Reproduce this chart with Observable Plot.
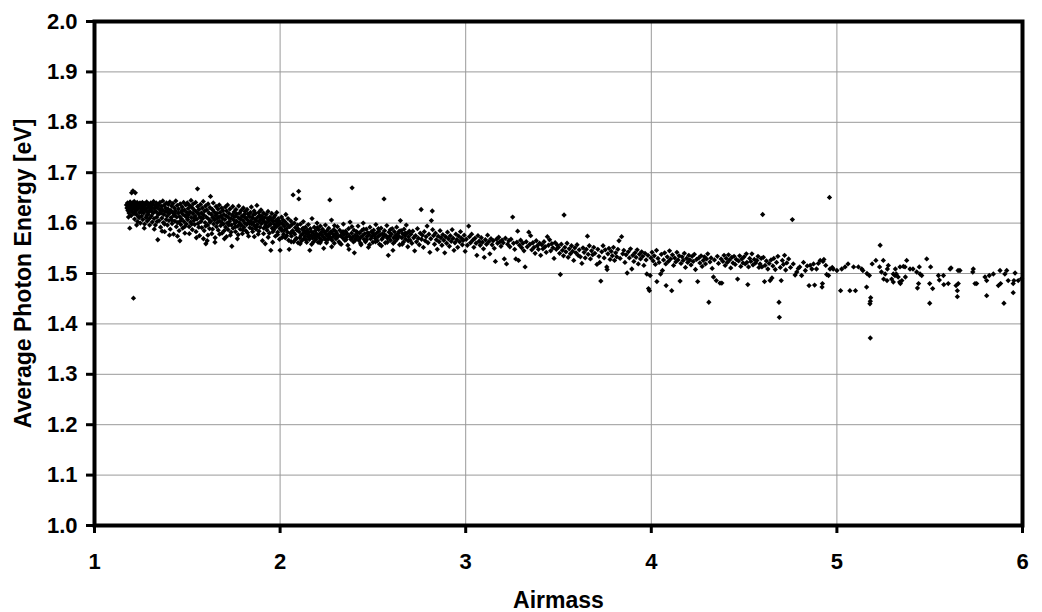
<!DOCTYPE html>
<html>
<head>
<meta charset="utf-8">
<script src="https://cdn.jsdelivr.net/npm/d3@7"></script>
<script src="https://cdn.jsdelivr.net/npm/@observablehq/plot@0.6"></script>
<style>
  html, body { margin: 0; padding: 0; background: #fff; }
  #chart svg { display: block; }
</style>
</head>
<body>
<div id="chart"></div>
<script>
// Axis tick values
const xTicks = [1, 2, 3, 4, 5, 6];
const yTicks = [1.0, 1.1, 1.2, 1.3, 1.4, 1.5, 1.6, 1.7, 1.8, 1.9, 2.0];
const xTitle = "Airmass";
const yTitle = "Average Photon Energy [eV]";

// [airmass, average photon energy], grouped by airmass range
const seg1 = [[1.172,1.636],[1.175,1.630],[1.178,1.640],[1.180,1.625],[1.182,1.634],[1.185,1.638],[1.186,1.620],[1.188,1.631],[1.190,1.590],[1.192,1.642],[1.194,1.627],[1.196,1.636],[1.198,1.615],[1.200,1.660],[1.202,1.633],[1.204,1.640],[1.205,1.622],[1.207,1.664],[1.209,1.637],[1.210,1.451],[1.212,1.629],[1.214,1.643],[1.216,1.608],[1.218,1.635],[1.220,1.660],[1.222,1.624],[1.224,1.639],[1.226,1.617],[1.228,1.632],[1.230,1.641],[1.232,1.603],[1.234,1.628],[1.236,1.637],[1.238,1.612],[1.240,1.634],[1.243,1.621],[1.245,1.640],[1.247,1.600],[1.249,1.630],[1.251,1.637],[1.254,1.614],[1.256,1.626],[1.258,1.641],[1.260,1.607],[1.263,1.633],[1.265,1.620],[1.267,1.639],[1.270,1.598],[1.272,1.628],[1.274,1.636],[1.277,1.611],[1.279,1.624],[1.281,1.642],[1.284,1.604],[1.286,1.631],[1.288,1.617],[1.291,1.638],[1.293,1.622],[1.296,1.609],[1.298,1.634]];
const seg2 = [[1.301,1.627],[1.303,1.640],[1.306,1.614],[1.308,1.632],[1.311,1.602],[1.313,1.637],[1.316,1.620],[1.318,1.643],[1.321,1.609],[1.323,1.629],[1.326,1.635],[1.328,1.596],[1.331,1.623],[1.333,1.640],[1.336,1.612],[1.338,1.631],[1.341,1.567],[1.343,1.618],[1.346,1.636],[1.348,1.605],[1.351,1.627],[1.353,1.641],[1.356,1.592],[1.358,1.620],[1.361,1.633],[1.363,1.610],[1.366,1.626],[1.368,1.644],[1.371,1.601],[1.373,1.617],[1.376,1.636],[1.378,1.583],[1.381,1.623],[1.383,1.630],[1.386,1.607],[1.388,1.640],[1.391,1.614],[1.393,1.596],[1.396,1.628],[1.398,1.637],[1.401,1.605],[1.403,1.619],[1.406,1.642],[1.408,1.588],[1.411,1.625],[1.413,1.611],[1.416,1.634],[1.418,1.599],[1.421,1.621],[1.423,1.639],[1.426,1.578],[1.428,1.615],[1.431,1.630],[1.433,1.604],[1.436,1.624],[1.438,1.644],[1.441,1.593],[1.443,1.612],[1.446,1.635],[1.448,1.601],[1.451,1.620],[1.453,1.628],[1.456,1.585],[1.458,1.613],[1.460,1.565],[1.462,1.638],[1.465,1.597],[1.467,1.622],[1.470,1.608],[1.472,1.632],[1.475,1.590],[1.477,1.617],[1.480,1.641],[1.482,1.603],[1.485,1.626],[1.487,1.580],[1.490,1.614],[1.492,1.636],[1.495,1.598],[1.497,1.621]];
const seg3 = [[1.500,1.640],[1.502,1.607],[1.505,1.629],[1.507,1.616],[1.510,1.593],[1.512,1.635],[1.515,1.622],[1.517,1.602],[1.520,1.645],[1.522,1.611],[1.525,1.631],[1.527,1.587],[1.530,1.619],[1.532,1.638],[1.535,1.605],[1.537,1.626],[1.540,1.597],[1.542,1.614],[1.545,1.641],[1.547,1.583],[1.550,1.622],[1.552,1.608],[1.555,1.668],[1.556,1.633],[1.558,1.599],[1.561,1.618],[1.563,1.627],[1.566,1.575],[1.568,1.612],[1.571,1.637],[1.573,1.603],[1.576,1.620],[1.578,1.591],[1.581,1.630],[1.583,1.609],[1.586,1.643],[1.588,1.616],[1.591,1.585],[1.593,1.624],[1.596,1.601],[1.598,1.634],[1.600,1.559],[1.602,1.612],[1.605,1.626],[1.607,1.565],[1.610,1.596],[1.612,1.638],[1.615,1.608],[1.617,1.620],[1.620,1.589],[1.622,1.631],[1.625,1.653],[1.627,1.604],[1.630,1.617],[1.632,1.579],[1.635,1.627],[1.637,1.611],[1.640,1.640],[1.642,1.598],[1.645,1.622],[1.647,1.606],[1.650,1.571],[1.652,1.615],[1.655,1.633],[1.657,1.593],[1.660,1.619],[1.662,1.601],[1.665,1.628],[1.667,1.586],[1.670,1.612],[1.672,1.636],[1.675,1.604],[1.677,1.621],[1.680,1.595],[1.682,1.614],[1.685,1.630],[1.687,1.580],[1.690,1.609],[1.692,1.625],[1.695,1.598],[1.697,1.617]];
const seg4 = [[1.700,1.569],[1.702,1.607],[1.705,1.632],[1.707,1.592],[1.710,1.614],[1.712,1.624],[1.715,1.600],[1.717,1.636],[1.720,1.587],[1.722,1.611],[1.725,1.619],[1.727,1.603],[1.730,1.628],[1.732,1.576],[1.735,1.609],[1.737,1.596],[1.740,1.554],[1.742,1.616],[1.745,1.633],[1.747,1.590],[1.750,1.606],[1.752,1.622],[1.755,1.599],[1.757,1.613],[1.760,1.583],[1.762,1.627],[1.765,1.604],[1.767,1.618],[1.770,1.569],[1.772,1.594],[1.775,1.611],[1.777,1.634],[1.780,1.601],[1.782,1.620],[1.785,1.588],[1.787,1.608],[1.790,1.625],[1.792,1.596],[1.795,1.614],[1.797,1.579],[1.800,1.605],[1.802,1.630],[1.805,1.592],[1.807,1.617],[1.810,1.600],[1.812,1.623],[1.815,1.585],[1.817,1.610],[1.820,1.597],[1.822,1.627],[1.825,1.606],[1.827,1.618],[1.830,1.574],[1.832,1.602],[1.835,1.613],[1.837,1.591],[1.840,1.621],[1.842,1.604],[1.845,1.632],[1.847,1.598],[1.850,1.610],[1.852,1.583],[1.855,1.616],[1.857,1.601],[1.860,1.624],[1.862,1.594],[1.865,1.608],[1.867,1.619],[1.870,1.588],[1.872,1.605],[1.875,1.635],[1.877,1.597],[1.880,1.612],[1.882,1.578],[1.885,1.621],[1.887,1.603],[1.890,1.615],[1.892,1.592],[1.895,1.607],[1.897,1.626]];
const seg5 = [[1.900,1.599],[1.902,1.614],[1.905,1.565],[1.907,1.606],[1.910,1.620],[1.912,1.590],[1.915,1.603],[1.917,1.611],[1.920,1.559],[1.922,1.596],[1.925,1.617],[1.927,1.601],[1.930,1.586],[1.932,1.609],[1.935,1.623],[1.937,1.594],[1.940,1.605],[1.942,1.580],[1.945,1.612],[1.947,1.598],[1.950,1.546],[1.952,1.607],[1.955,1.619],[1.957,1.590],[1.960,1.562],[1.962,1.603],[1.965,1.611],[1.967,1.587],[1.970,1.597],[1.972,1.615],[1.975,1.574],[1.977,1.605],[1.980,1.593],[1.982,1.621],[1.985,1.600],[1.987,1.582],[1.990,1.609],[1.992,1.596],[1.995,1.604],[1.997,1.568],[2.000,1.546],[2.002,1.601],[2.005,1.590],[2.008,1.612],[2.010,1.585],[2.013,1.598],[2.016,1.606],[2.019,1.578],[2.022,1.594],[2.025,1.603],[2.028,1.571],[2.031,1.617],[2.034,1.589],[2.037,1.598],[2.040,1.582],[2.043,1.609],[2.046,1.566],[2.049,1.548],[2.052,1.593],[2.055,1.580],[2.058,1.604],[2.061,1.574],[2.064,1.597],[2.067,1.585],[2.070,1.656],[2.073,1.563],[2.076,1.600],[2.079,1.578],[2.082,1.591],[2.085,1.608],[2.088,1.570],[2.091,1.586],[2.094,1.596],[2.097,1.561],[2.100,1.663],[2.101,1.648]];
const seg5b = [[1.183,1.612],[1.197,1.628],[1.213,1.619],[1.227,1.596],[1.241,1.611],[1.253,1.623],[1.268,1.590],[1.282,1.615],[1.297,1.596],[1.309,1.624],[1.322,1.588],[1.337,1.603],[1.349,1.619],[1.364,1.584],[1.377,1.598],[1.392,1.622],[1.404,1.576],[1.417,1.606],[1.432,1.618],[1.447,1.574],[1.459,1.603],[1.474,1.625],[1.486,1.593],[1.499,1.611],[1.511,1.579],[1.524,1.598],[1.538,1.610],[1.549,1.571],[1.562,1.592],[1.574,1.611],[1.587,1.569],[1.599,1.594],[1.611,1.576],[1.623,1.602],[1.636,1.588],[1.649,1.562],[1.661,1.609],[1.674,1.578],[1.686,1.601],[1.699,1.585],[1.711,1.573],[1.724,1.596],[1.736,1.582],[1.749,1.614],[1.761,1.593],[1.774,1.577],[1.786,1.597],[1.799,1.586],[1.811,1.611],[1.824,1.581],[1.836,1.599],[1.849,1.589],[1.861,1.573],[1.874,1.593],[1.886,1.584],[1.899,1.610],[1.911,1.579],[1.924,1.592],[1.936,1.572],[1.949,1.598],[1.961,1.583],[1.974,1.593],[1.986,1.577],[1.999,1.589],[2.012,1.572],[2.024,1.586],[2.036,1.575],[2.048,1.593],[2.060,1.563],[2.072,1.581],[2.084,1.568],[2.096,1.589]];
const seg6 = [[2.103,1.583],[2.106,1.571],[2.110,1.598],[2.113,1.576],[2.116,1.565],[2.119,1.588],[2.122,1.579],[2.125,1.603],[2.128,1.569],[2.131,1.584],[2.134,1.574],[2.137,1.592],[2.140,1.580],[2.143,1.562],[2.146,1.586],[2.149,1.573],[2.152,1.597],[2.155,1.577],[2.158,1.568],[2.160,1.546],[2.163,1.589],[2.166,1.575],[2.169,1.583],[2.172,1.609],[2.175,1.571],[2.178,1.580],[2.181,1.563],[2.184,1.592],[2.187,1.576],[2.190,1.585],[2.193,1.568],[2.196,1.579],[2.199,1.600],[2.202,1.574],[2.205,1.562],[2.208,1.587],[2.211,1.577],[2.214,1.570],[2.217,1.594],[2.220,1.581],[2.223,1.566],[2.226,1.576],[2.229,1.588],[2.232,1.573],[2.235,1.550],[2.238,1.582],[2.241,1.569],[2.244,1.596],[2.247,1.578],[2.250,1.561],[2.253,1.585],[2.256,1.574],[2.259,1.568],[2.262,1.590],[2.265,1.577],[2.268,1.646],[2.271,1.571],[2.274,1.583],[2.277,1.606],[2.280,1.566],[2.283,1.579],[2.286,1.573],[2.289,1.587],[2.292,1.560],[2.295,1.576],[2.298,1.584],[2.301,1.569],[2.305,1.580],[2.309,1.593],[2.313,1.574],[2.317,1.563],[2.321,1.586],[2.325,1.575],[2.329,1.558],[2.333,1.581],[2.337,1.571],[2.341,1.598],[2.345,1.577],[2.349,1.566],[2.353,1.584],[2.357,1.572],[2.361,1.579],[2.365,1.556],[2.369,1.589],[2.373,1.574],[2.377,1.602],[2.381,1.568],[2.385,1.580],[2.388,1.670],[2.391,1.572],[2.395,1.563],[2.398,1.586]];
const seg7 = [[2.400,1.541],[2.404,1.576],[2.408,1.569],[2.412,1.583],[2.416,1.574],[2.420,1.594],[2.424,1.566],[2.428,1.580],[2.432,1.571],[2.436,1.557],[2.440,1.585],[2.444,1.575],[2.448,1.600],[2.452,1.568],[2.456,1.579],[2.460,1.563],[2.464,1.588],[2.468,1.573],[2.472,1.581],[2.476,1.552],[2.480,1.577],[2.484,1.592],[2.488,1.569],[2.492,1.583],[2.496,1.574],[2.500,1.562],[2.504,1.586],[2.508,1.576],[2.512,1.570],[2.516,1.597],[2.520,1.580],[2.524,1.565],[2.528,1.573],[2.532,1.584],[2.536,1.558],[2.540,1.577],[2.544,1.590],[2.548,1.568],[2.552,1.579],[2.556,1.572],[2.560,1.648],[2.563,1.585],[2.567,1.561],[2.571,1.575],[2.575,1.595],[2.579,1.570],[2.583,1.536],[2.587,1.582],[2.591,1.574],[2.595,1.566],[2.600,1.578],[2.604,1.589],[2.608,1.546],[2.612,1.571],[2.616,1.583],[2.620,1.564],[2.624,1.576],[2.628,1.592],[2.632,1.569],[2.636,1.580],[2.640,1.574],[2.644,1.557],[2.648,1.605],[2.652,1.585],[2.656,1.571],[2.660,1.579],[2.664,1.562],[2.668,1.588],[2.672,1.575],[2.676,1.568],[2.680,1.596],[2.684,1.580],[2.688,1.553],[2.692,1.573],[2.696,1.584]];
const seg7b = [[2.108,1.559],[2.124,1.590],[2.139,1.567],[2.154,1.582],[2.170,1.558],[2.186,1.571],[2.201,1.591],[2.216,1.561],[2.231,1.584],[2.246,1.568],[2.262,1.578],[2.278,1.553],[2.293,1.595],[2.307,1.572],[2.323,1.560],[2.339,1.583],[2.355,1.567],[2.371,1.548],[2.387,1.593],[2.402,1.565],[2.418,1.581],[2.434,1.560],[2.450,1.588],[2.466,1.567],[2.482,1.557],[2.498,1.581],[2.514,1.563],[2.530,1.589],[2.546,1.555],[2.562,1.577],[2.578,1.562],[2.594,1.587],[2.610,1.560],[2.626,1.572],[2.642,1.584],[2.658,1.558],[2.674,1.580],[2.690,1.565]];
const seg8 = [[2.700,1.566],[2.705,1.578],[2.710,1.560],[2.715,1.584],[2.720,1.571],[2.725,1.545],[2.730,1.575],[2.735,1.563],[2.740,1.589],[2.745,1.570],[2.750,1.557],[2.755,1.580],[2.760,1.627],[2.762,1.568],[2.767,1.576],[2.772,1.552],[2.777,1.583],[2.782,1.565],[2.787,1.573],[2.792,1.594],[2.797,1.561],[2.802,1.578],[2.807,1.542],[2.812,1.569],[2.815,1.605],[2.820,1.624],[2.822,1.587],[2.827,1.575],[2.832,1.558],[2.837,1.580],[2.842,1.567],[2.847,1.548],[2.852,1.574],[2.857,1.563],[2.862,1.585],[2.867,1.571],[2.872,1.556],[2.877,1.577],[2.882,1.566],[2.887,1.541],[2.892,1.573],[2.897,1.560],[2.902,1.582],[2.907,1.569],[2.912,1.554],[2.917,1.575],[2.922,1.564],[2.927,1.587],[2.932,1.570],[2.937,1.546],[2.942,1.561],[2.947,1.578],[2.952,1.567],[2.957,1.552],[2.962,1.574],[2.967,1.563],[2.972,1.583],[2.977,1.570],[2.982,1.557],[2.987,1.566],[2.992,1.576],[2.997,1.544]];
const seg9 = [[3.003,1.568],[3.009,1.556],[3.016,1.594],[3.020,1.573],[3.026,1.561],[3.032,1.578],[3.038,1.566],[3.044,1.552],[3.050,1.570],[3.056,1.560],[3.060,1.536],[3.066,1.575],[3.072,1.564],[3.078,1.556],[3.084,1.571],[3.090,1.562],[3.096,1.549],[3.100,1.532],[3.106,1.567],[3.112,1.558],[3.118,1.576],[3.124,1.563],[3.130,1.539],[3.136,1.569],[3.142,1.557],[3.148,1.565],[3.154,1.550],[3.160,1.524],[3.166,1.568],[3.172,1.560],[3.178,1.572],[3.184,1.563],[3.190,1.554],[3.196,1.566],[3.202,1.561],[3.208,1.529],[3.214,1.570],[3.220,1.519],[3.226,1.558],[3.232,1.565],[3.238,1.553],[3.244,1.568],[3.253,1.612],[3.258,1.560],[3.264,1.548],[3.270,1.529],[3.276,1.562],[3.280,1.584],[3.285,1.526],[3.290,1.556],[3.296,1.566],[3.302,1.551],[3.308,1.560],[3.314,1.545],[3.320,1.513],[3.326,1.563],[3.332,1.553],[3.340,1.582],[3.346,1.558],[3.350,1.575],[3.356,1.547],[3.362,1.561],[3.368,1.552],[3.374,1.540],[3.380,1.565],[3.386,1.555],[3.392,1.548],[3.398,1.560],[3.404,1.536],[3.410,1.557],[3.416,1.549],[3.422,1.563],[3.428,1.553],[3.434,1.542],[3.440,1.573],[3.446,1.556],[3.452,1.567],[3.458,1.545],[3.464,1.559],[3.470,1.551],[3.476,1.530],[3.482,1.561],[3.488,1.548],[3.494,1.556]];
const seg10 = [[3.500,1.552],[3.506,1.540],[3.510,1.498],[3.515,1.558],[3.521,1.546],[3.527,1.535],[3.530,1.616],[3.534,1.552],[3.540,1.543],[3.546,1.560],[3.552,1.532],[3.558,1.549],[3.564,1.539],[3.570,1.555],[3.576,1.544],[3.582,1.526],[3.588,1.551],[3.594,1.541],[3.600,1.557],[3.606,1.536],[3.612,1.547],[3.618,1.533],[3.626,1.520],[3.632,1.551],[3.638,1.542],[3.644,1.531],[3.650,1.548],[3.656,1.574],[3.660,1.538],[3.666,1.555],[3.672,1.529],[3.678,1.545],[3.684,1.537],[3.690,1.552],[3.696,1.540],[3.707,1.518],[3.712,1.548],[3.718,1.534],[3.722,1.522],[3.728,1.485],[3.733,1.543],[3.740,1.555],[3.746,1.531],[3.752,1.547],[3.760,1.513],[3.762,1.508],[3.766,1.539],[3.772,1.550],[3.778,1.528],[3.784,1.544],[3.790,1.535],[3.796,1.552],[3.802,1.526],[3.808,1.541],[3.814,1.533],[3.820,1.548],[3.826,1.565],[3.832,1.530],[3.840,1.573],[3.846,1.539],[3.852,1.546],[3.858,1.522],[3.864,1.537],[3.870,1.501],[3.876,1.543],[3.882,1.531],[3.888,1.549],[3.895,1.509],[3.900,1.536],[3.906,1.524],[3.912,1.541],[3.918,1.532],[3.924,1.547],[3.930,1.519],[3.936,1.538],[3.942,1.529],[3.948,1.543],[3.954,1.534],[3.960,1.516],[3.966,1.540],[3.972,1.527],[3.976,1.499],[3.982,1.536],[3.985,1.470],[3.990,1.466],[3.994,1.496],[3.998,1.531]];
const seg11 = [[4.004,1.542],[4.010,1.525],[4.016,1.535],[4.022,1.518],[4.028,1.546],[4.030,1.484],[4.036,1.530],[4.042,1.522],[4.050,1.499],[4.054,1.538],[4.060,1.506],[4.066,1.527],[4.072,1.541],[4.078,1.519],[4.080,1.476],[4.086,1.533],[4.092,1.524],[4.098,1.545],[4.104,1.529],[4.110,1.466],[4.114,1.537],[4.120,1.516],[4.126,1.531],[4.132,1.523],[4.138,1.542],[4.144,1.527],[4.150,1.535],[4.155,1.485],[4.160,1.520],[4.166,1.533],[4.172,1.526],[4.178,1.540],[4.184,1.512],[4.190,1.530],[4.196,1.522],[4.202,1.536],[4.208,1.527],[4.214,1.517],[4.220,1.534],[4.226,1.524],[4.232,1.538],[4.238,1.508],[4.244,1.528],[4.250,1.484],[4.256,1.531],[4.262,1.521],[4.268,1.535],[4.274,1.514],[4.280,1.526],[4.286,1.533],[4.292,1.519],[4.298,1.529],[4.304,1.539],[4.310,1.443],[4.316,1.523],[4.322,1.531],[4.328,1.510],[4.335,1.493],[4.340,1.527],[4.350,1.486],[4.356,1.534],[4.362,1.520],[4.370,1.481],[4.376,1.529],[4.380,1.481],[4.386,1.524],[4.392,1.536],[4.398,1.516],[4.404,1.530],[4.410,1.522],[4.416,1.537],[4.422,1.527],[4.428,1.511],[4.434,1.532],[4.440,1.521],[4.446,1.534],[4.452,1.518],[4.458,1.528],[4.465,1.489],[4.470,1.525],[4.476,1.535],[4.482,1.514],[4.488,1.529],[4.494,1.521]];
const seg12 = [[4.500,1.533],[4.506,1.519],[4.512,1.539],[4.515,1.522],[4.520,1.478],[4.524,1.513],[4.530,1.530],[4.536,1.524],[4.542,1.539],[4.548,1.517],[4.555,1.528],[4.562,1.521],[4.569,1.526],[4.575,1.534],[4.580,1.512],[4.586,1.519],[4.592,1.530],[4.596,1.513],[4.600,1.617],[4.604,1.532],[4.610,1.484],[4.613,1.516],[4.620,1.525],[4.628,1.509],[4.635,1.520],[4.640,1.486],[4.645,1.527],[4.650,1.491],[4.655,1.515],[4.660,1.530],[4.668,1.508],[4.675,1.522],[4.682,1.534],[4.688,1.443],[4.690,1.413],[4.695,1.512],[4.700,1.486],[4.706,1.526],[4.712,1.518],[4.718,1.536],[4.724,1.507],[4.730,1.521],[4.740,1.529],[4.750,1.512],[4.760,1.607],[4.765,1.519],[4.775,1.497],[4.784,1.503],[4.792,1.510],[4.800,1.513],[4.810,1.496],[4.820,1.522],[4.830,1.506],[4.840,1.515],[4.850,1.476],[4.856,1.516],[4.865,1.509],[4.874,1.519],[4.880,1.477],[4.890,1.509],[4.900,1.520],[4.910,1.526],[4.920,1.473],[4.922,1.480],[4.925,1.524],[4.930,1.528],[4.940,1.516],[4.945,1.498],[4.955,1.496],[4.960,1.651],[4.963,1.509],[4.975,1.512],[4.980,1.509]];
const seg13 = [[5.000,1.506],[5.020,1.466],[5.026,1.509],[5.044,1.513],[5.060,1.519],[5.070,1.466],[5.090,1.513],[5.100,1.466],[5.116,1.513],[5.134,1.509],[5.140,1.506],[5.160,1.473],[5.162,1.500],[5.175,1.496],[5.178,1.440],[5.180,1.445],[5.182,1.452],[5.180,1.372],[5.190,1.519],[5.210,1.526],[5.230,1.513],[5.233,1.556],[5.240,1.503],[5.250,1.526],[5.252,1.489],[5.260,1.499],[5.270,1.486],[5.277,1.516],[5.272,1.509],[5.295,1.489],[5.304,1.499],[5.313,1.496],[5.320,1.499],[5.315,1.509],[5.340,1.513],[5.330,1.493],[5.338,1.483],[5.342,1.480],[5.304,1.483],[5.350,1.486],[5.367,1.513],[5.376,1.526],[5.369,1.493],[5.358,1.514],[5.394,1.509],[5.410,1.509],[5.430,1.503],[5.444,1.513],[5.440,1.480],[5.434,1.471],[5.457,1.496],[5.448,1.499],[5.484,1.529],[5.505,1.513],[5.500,1.480],[5.516,1.470],[5.500,1.441],[5.547,1.496],[5.552,1.487],[5.574,1.496],[5.576,1.478],[5.610,1.509],[5.600,1.480],[5.615,1.511],[5.642,1.476],[5.649,1.466],[5.649,1.454],[5.654,1.480],[5.663,1.506],[5.653,1.506],[5.735,1.509],[5.732,1.503],[5.744,1.480],[5.753,1.480],[5.798,1.493],[5.807,1.486],[5.807,1.456],[5.821,1.496],[5.843,1.499],[5.879,1.506],[5.870,1.476],[5.882,1.480],[5.905,1.499],[5.915,1.506],[5.900,1.441],[5.923,1.486],[5.950,1.480],[5.954,1.486],[5.950,1.462],[5.960,1.501],[5.977,1.486],[5.995,1.490]];

const points = [seg1, seg2, seg3, seg4, seg5, seg5b, seg6, seg7, seg7b, seg8, seg9, seg10, seg11, seg12, seg13]
  .flat()
  .map(([airmass, energy]) => ({airmass, energy}));

const font = "'Liberation Sans', Arial, Helvetica, sans-serif";

const chart = Plot.plot({
  width: 1042,
  height: 612,
  marginLeft: 94,
  marginRight: 20,
  marginTop: 21,
  marginBottom: 87,
  style: {fontFamily: font, fontSize: "22px", fontWeight: "bold", color: "#000", background: "#fff"},
  x: {domain: [1, 6]},
  y: {domain: [1, 2]},
  marks: [
    Plot.gridX(xTicks, {stroke: "#999999", strokeOpacity: 1, strokeWidth: 1}),
    Plot.gridY(yTicks, {stroke: "#999999", strokeOpacity: 1, strokeWidth: 1}),
    Plot.dot(points, {x: "airmass", y: "energy", symbol: "diamond2", r: 2.4, fill: "#000", stroke: "none"}),
    Plot.frame({stroke: "#000", strokeWidth: 4}),
    Plot.axisX(xTicks, {tickSize: 8, tickPadding: 20, strokeWidth: 3, fontSize: 22, fontWeight: "bold", tickFormat: d3.format("d"), label: null}),
    Plot.axisY(yTicks, {tickSize: 8, tickPadding: 9, strokeWidth: 3, fontSize: 22, fontWeight: "bold", tickFormat: d3.format(".1f"), label: null}),
    Plot.text([xTitle], {frameAnchor: "bottom", dy: 75, text: d => d, fontSize: 23, fontWeight: "bold", textAnchor: "middle", lineAnchor: "middle"}),
    Plot.text([yTitle], {frameAnchor: "left", dx: -71, rotate: -90, text: d => d, fontSize: 23, fontWeight: "bold", textAnchor: "middle", lineAnchor: "middle"})
  ]
});
document.getElementById("chart").appendChild(chart);
</script>
</body>
</html>
